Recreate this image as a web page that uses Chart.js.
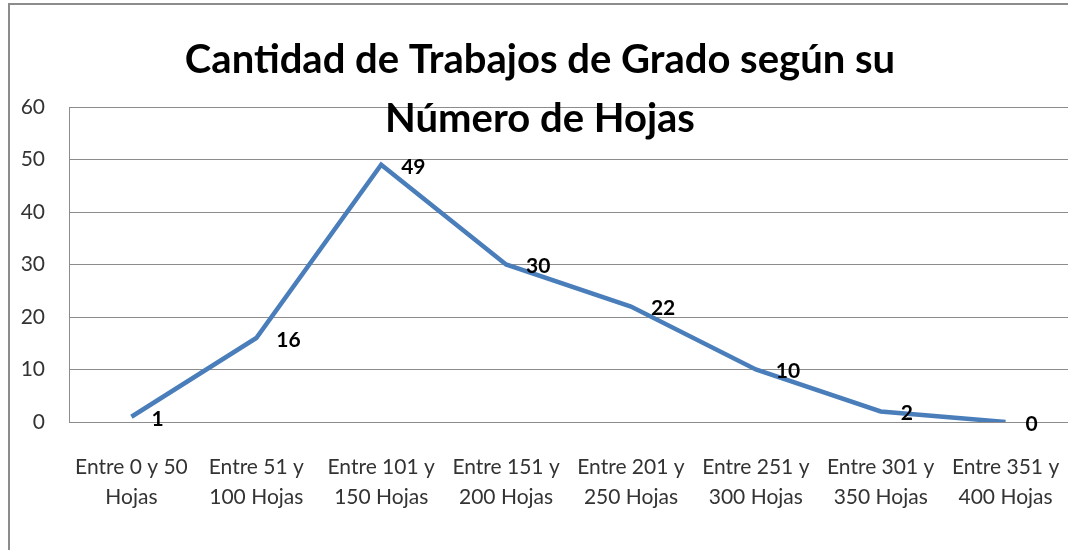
<!DOCTYPE html>
<html>
<head>
<meta charset="utf-8">
<script src="https://cdn.jsdelivr.net/npm/chart.js@4/dist/chart.umd.min.js"></script>
<style>
  html, body { margin: 0; padding: 0; background: #fff; }
  #wrap { width: 1068px; height: 550px; position: relative; }
</style>
</head>
<body>
<div id="wrap"><canvas id="hojas-chart"></canvas></div>
<script>
const categorias = [
    ['Entre 0 y 50', 'Hojas'],
    ['Entre 51 y', '100 Hojas'],
    ['Entre 101 y', '150 Hojas'],
    ['Entre 151 y', '200 Hojas'],
    ['Entre 201 y', '250 Hojas'],
    ['Entre 251 y', '300 Hojas'],
    ['Entre 301 y', '350 Hojas'],
    ['Entre 351 y', '400 Hojas']
];
const trabajos = [1, 16, 49, 30, 22, 10, 2, 0];
const tituloLineas = ['Cantidad de Trabajos de Grado según su', 'Número de Hojas'];
const yMin = 0, yMax = 60, yPaso = 10;

// marco gris del grafico (solo se ven borde izquierdo y superior)
const marco = {
    id: 'marco',
    beforeDraw(chart){
        const ctx = chart.ctx;
        ctx.save();
        ctx.strokeStyle = '#8c8c8c';
        ctx.lineWidth = 2;
        ctx.strokeRect(9, 4, 2000, 2000);
        ctx.restore();
    }
};

// etiquetas de valor a la derecha de cada punto
const etiquetas = {
    id: 'etiquetas',
    afterDatasetsDraw(chart){
        const ctx = chart.ctx;
        const meta = chart.getDatasetMeta(0);
        ctx.save();
        ctx.font = 'bold 21px Lato';
        ctx.fillStyle = '#000';
        ctx.textAlign = 'left';
        ctx.textBaseline = 'middle';
        meta.data.forEach(function(p, i){
            ctx.fillText(String(trabajos[i]), p.x + 20, p.y + 2);
        });
        ctx.restore();
    }
};

// titulo encima del area del grafico
const titulo = {
    id: 'titulo',
    afterDraw(chart){
        const ctx = chart.ctx;
        ctx.save();
        ctx.font = 'bold 40px Lato';
        ctx.fillStyle = '#000';
        ctx.textAlign = 'center';
        ctx.textBaseline = 'alphabetic';
        ctx.fillText(tituloLineas[0], 540, 73);
        ctx.fillText(tituloLineas[1], 540, 132);
        ctx.restore();
    }
};

const ctxHojas = document.getElementById('hojas-chart').getContext('2d');
const hojasChart = new Chart(ctxHojas, {
    type: 'line',
    data: {
        labels: categorias,
        datasets: [{
            label: 'Trabajos',
            data: trabajos,
            borderColor: '#4a7ebb',
            borderWidth: 4.5,
            pointRadius: 0,
            tension: 0,
            fill: false
        }]
    },
    options: {
        animation: false,
        responsive: true,
        maintainAspectRatio: false,
        layout: { padding: { top: 107, left: 0, right: 0, bottom: 0 } },
        plugins: {
            legend: { display: false },
            tooltip: { enabled: false },
            title: { display: false }
        },
        scales: {
            x: {
                offset: true,
                grid: { display: false, drawTicks: false },
                border: { display: false },
                ticks: {
                    maxRotation: 0,
                    autoSkip: false,
                    padding: 30,
                    color: '#333333',
                    font: { family: 'Lato', size: 21, lineHeight: 1.43 }
                },
                afterFit(scale){
                    scale.height = 128;
                    scale.paddingLeft = 0;
                    scale.paddingRight = 0;
                }
            },
            y: {
                min: yMin,
                max: yMax,
                grid: { color: '#8c8c8c', lineWidth: 1, drawTicks: false },
                border: { display: true, color: '#8c8c8c', width: 1 },
                ticks: {
                    stepSize: yPaso,
                    padding: 24,
                    color: '#333333',
                    font: { family: 'Lato', size: 21 }
                },
                afterFit(scale){ scale.width = 69; }
            }
        }
    },
    plugins: [marco, etiquetas, titulo]
});
</script>
</body>
</html>
